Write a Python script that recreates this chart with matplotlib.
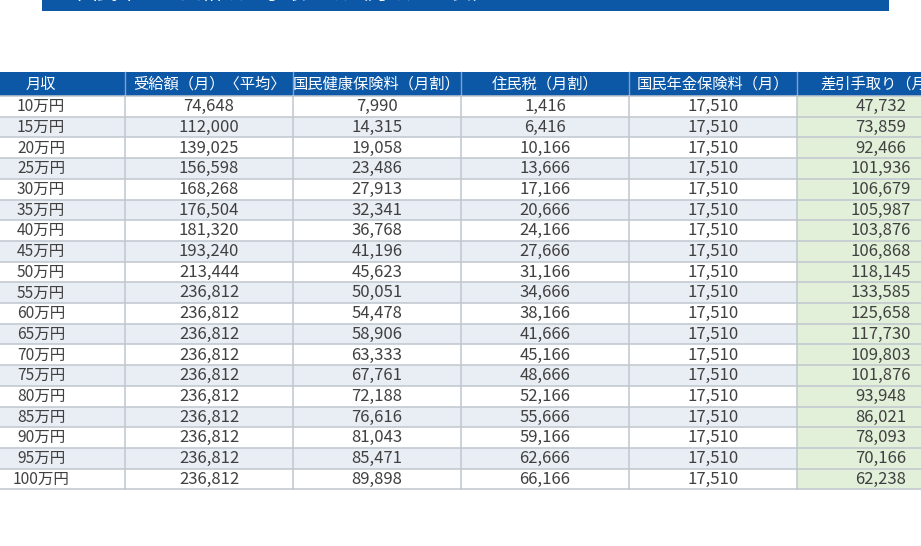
import matplotlib
matplotlib.use("Agg")
import matplotlib.pyplot as plt
from matplotlib.patches import Rectangle

plt.rcParams['font.family'] = ['Noto Sans CJK JP', 'DejaVu Sans']

title = "国民年金の受給額と手取り額（月額・目安）"
headers = ["月収", "受給額（月）〈平均〉", "国民健康保険料（月割）", "住民税（月割）", "国民年金保険料（月）", "差引手取り（月）"]
income = ["10万円", "15万円", "20万円", "25万円", "30万円", "35万円", "40万円", "45万円", "50万円", "55万円",
          "60万円", "65万円", "70万円", "75万円", "80万円", "85万円", "90万円", "95万円", "100万円"]
benefit = [74648, 112000, 139025, 156598, 168268, 176504, 181320, 193240, 213444, 236812,
           236812, 236812, 236812, 236812, 236812, 236812, 236812, 236812, 236812]
health = [7990, 14315, 19058, 23486, 27913, 32341, 36768, 41196, 45623, 50051,
          54478, 58906, 63333, 67761, 72188, 76616, 81043, 85471, 89898]
resident = [1416, 6416, 10166, 13666, 17166, 20666, 24166, 27666, 31166, 34666,
            38166, 41666, 45166, 48666, 52166, 55666, 59166, 62666, 66166]
pension = [17510] * 19
takehome = [47732, 73859, 92466, 101936, 106679, 105987, 103876, 106868, 118145, 133585,
            125658, 117730, 109803, 101876, 93948, 86021, 78093, 70166, 62238]

W, H = 921, 546
fig = plt.figure(figsize=(W / 100, H / 100), dpi=100)
ax = fig.add_axes([0, 0, 1, 1])
ax.set_xlim(0, W)
ax.set_ylim(H, 0)
ax.axis('off')

BLUE = '#0C58A6'
STRIPE = '#E9EEF5'
GREEN = '#E2F0DA'
GRID = '#BFC6CD'
TEXT = '#404040'

# banner (clipped at top)
ax.add_patch(Rectangle((42, -30), 847, 41, facecolor=BLUE, edgecolor='none'))
ax.text(76, 3.5, title, color='white', fontsize=15, ha='left', va='bottom')

x0 = -43
cw = 168
ytop = 72
hh = 24
rh = 20.7
fs_head = 11
fs_num = 12
fs_lab = 11.2

cols = [income, [f"{v:,}" for v in benefit], [f"{v:,}" for v in health],
        [f"{v:,}" for v in resident], [f"{v:,}" for v in pension], [f"{v:,}" for v in takehome]]
n = len(income)

# header
for j, h in enumerate(headers):
    x = x0 + j * cw
    ax.add_patch(Rectangle((x, ytop), cw, hh, facecolor=BLUE, edgecolor='none'))
    ax.text(x + cw / 2, ytop + hh / 2 + 0.5, h, color='white', fontsize=fs_head, ha='center', va='center')
    if j > 0:
        ax.plot([x, x], [ytop, ytop + hh], color='#7FA3CC', lw=1)

# body
for i in range(n):
    y = ytop + hh + i * rh
    for j in range(len(headers)):
        x = x0 + j * cw
        if j == len(headers) - 1:
            fc = GREEN
        else:
            fc = 'white' if i % 2 == 0 else STRIPE
        ax.add_patch(Rectangle((x, y), cw, rh, facecolor=fc, edgecolor='none'))
        ax.text(x + cw / 2, y + rh / 2 + 0.3, cols[j][i], color=TEXT,
                fontsize=fs_lab if j == 0 else fs_num, ha='center', va='center')

ybot = ytop + hh + n * rh
for i in range(n + 1):
    y = ytop + hh + i * rh
    ax.plot([x0, x0 + cw * len(headers)], [y, y], color=GRID, lw=1.1)
for j in range(1, len(headers)):
    x = x0 + j * cw
    ax.plot([x, x], [ytop + hh, ybot], color=GRID, lw=1.1)

fig.savefig('out.png', dpi=100)
